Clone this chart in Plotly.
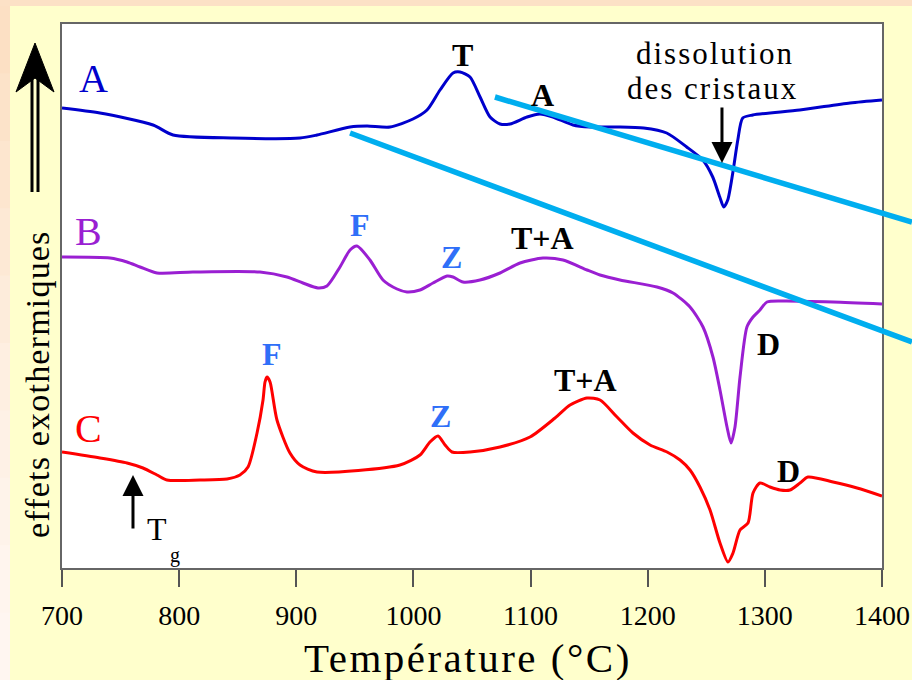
import plotly.graph_objects as go

# DTA traces: temperature (°C) and exothermic signal (arbitrary units)
temp_a = [700, 732.4, 777.7, 794.8, 846, 903.2, 917.7, 945.9, 960.4, 980, 999.6, 1011.6,
          1022.7, 1033.8, 1039.8, 1048.3, 1056.9, 1065.4, 1073.9, 1082.4, 1097, 1108,
          1119.1, 1136.2, 1150.7, 1173.8, 1196.5, 1216.2, 1233.3, 1247, 1255.5, 1261.5,
          1264.9, 1268.3, 1272.6, 1276.9, 1281.1, 1289.7, 1329.8, 1372.7, 1400]
sig_a = [460, 455, 443, 433, 430, 430, 433, 441, 442, 441, 449, 458,
         478, 495, 496, 491, 471, 451, 444, 444, 451, 454,
         451, 443, 441, 441, 440, 435, 421, 408, 391, 371,
         361, 368, 395, 428, 450, 453, 458, 465, 468]

temp_b = [700, 741.0, 755.5, 766.6, 781.1, 811.8, 869.0, 892.1, 905.7, 918.5, 926.2, 937.3,
          945.9, 951.8, 962.9, 974.0, 986.0, 994.5, 1005.6, 1016.7, 1028.7, 1033.8,
          1042.3, 1056.8, 1073.9, 1091.0, 1110.6, 1127.7, 1148.2, 1159.3, 1176.3, 1207.9,
          1221.6, 1236.1, 1247.2, 1255.7, 1261.7, 1267.7, 1271.1, 1274.5, 1278.8, 1284.7,
          1289.9, 1295.8, 1301.8, 1315.5, 1358.2, 1400]
sig_b = [311, 310, 306, 301, 295, 296, 296, 291, 285, 280, 282, 301,
         318, 322, 308, 288, 279, 276, 278, 285, 292, 291,
         286, 288, 295, 305, 310, 308, 298, 293, 288, 281,
         275, 261, 241, 211, 178, 141, 125, 141, 191, 241,
         251, 258, 266, 267, 266, 264]

temp_c = [700, 732.4, 755.5, 769.1, 781.1, 789.6, 817.8, 840.9, 851.9, 858.8, 866.5, 871.6,
          873.3, 875.0, 877.6, 883.5, 894.6, 903.2, 917.7, 988.5, 1005.6, 1014.1, 1021.0,
          1027.0, 1032.9, 1048.3, 1073.9, 1099.5, 1120.9, 1133.7, 1148.2, 1159.3, 1173.8,
          1187.4, 1202.0, 1216.5, 1227.6, 1236.1, 1244.6, 1253.2, 1261.7, 1268.5, 1272.8,
          1278.8, 1285.6, 1289.9, 1295.8, 1304.4, 1312.9, 1321.5, 1330.0, 1336.8, 1358.2,
          1378.7, 1400]
sig_c = [116, 110, 105, 100, 93, 88, 88, 89, 93, 101, 135, 168,
         186, 191, 186, 148, 115, 103, 96, 103, 113, 126, 132,
         123, 116, 116, 121, 131, 150, 163, 170, 168, 151,
         135, 123, 116, 108, 98, 81, 58, 25, 6, 15,
         38, 45, 75, 85, 81, 78, 78, 85, 91, 86,
         80, 72]

# Peak labels: text, temperature, signal, colour
peak_text = ["T", "A", "F", "Z", "T+A", "D", "F", "Z", "T+A", "D"]
peak_temp = [1041.5, 1109.8, 954.4, 1032.1, 1110.6, 1303.5, 879.3, 1022.7, 1146.5, 1319.8]
peak_sig = [513, 473, 343, 311, 330, 224, 214, 152, 188, 97]
peak_color = ["black", "black", "#2F6FF8", "#2F6FF8", "black", "black",
              "#2F6FF8", "#2F6FF8", "black", "black"]

# Curve names
curve_names = ["A", "B", "C"]
curve_name_temp = [726.5, 722.2, 723.0]
curve_name_sig = [490, 337, 140]
curve_colors = ["#0000CC", "#9A1FD2", "#FF0000"]

# Tie-lines between curves A and B (temperature, signal)
tie_temp = [(1069.6, 1425.6), (945.9, 1425.6)]
tie_sig = [(471, 346), (435, 226)]

x_ticks = [700, 800, 900, 1000, 1100, 1200, 1300, 1400]
X_RANGE = [700, 1400]
Y_RANGE = [0, 544]

W, H = 912, 680
ML, MR, MT, MB = 62, 30, 24, 112
PW, PH = W - ML - MR, H - MT - MB


def px_paper(xp, yp):
    """Pixel position on the page -> paper fraction."""
    return (xp - ML) / PW, (H - MB - yp) / PH


def data_paper(t, s):
    return ((t - X_RANGE[0]) / (X_RANGE[1] - X_RANGE[0]),
            (s - Y_RANGE[0]) / (Y_RANGE[1] - Y_RANGE[0]))


SERIF = "Liberation Serif"

fig = go.Figure()
for tx, sy, col in [(temp_a, sig_a, curve_colors[0]),
                    (temp_b, sig_b, curve_colors[1]),
                    (temp_c, sig_c, curve_colors[2])]:
    fig.add_trace(go.Scatter(x=tx, y=sy, mode="lines", showlegend=False,
                             hoverinfo="skip",
                             line=dict(color=col, width=3, shape="spline", smoothing=0.7)))

shapes = []
# peach border strips (top and left) around the yellow page
x0, y0 = px_paper(0, 0)
x1, y1 = px_paper(W, 6)
shapes.append(dict(type="rect", xref="paper", yref="paper", x0=x0, x1=x1, y0=y0, y1=y1,
                   line=dict(width=0), fillcolor="#FCE1C6", layer="below"))
bands = ["#FCE0C4", "#FCE3C9", "#FDE6CF", "#FDE9D5", "#FDECDB", "#FEEFE1",
         "#FEF1E6", "#FEF3EA", "#FFF5EE", "#FFF6F1"]
band_h = (H - 6) / len(bands)
for i, c in enumerate(bands):
    bx0, by0 = px_paper(0, 6 + i * band_h)
    bx1, by1 = px_paper(10, 6 + (i + 1) * band_h + 1)
    shapes.append(dict(type="rect", xref="paper", yref="paper", x0=bx0, x1=bx1,
                       y0=by1, y1=by0, line=dict(width=0), fillcolor=c, layer="below"))

# cyan tie-lines
for (ta, tb), (sa, sb) in zip(tie_temp, tie_sig):
    pa = data_paper(ta, sa)
    pb = data_paper(tb, sb)
    shapes.append(dict(type="line", xref="paper", yref="paper",
                       x0=pa[0], y0=pa[1], x1=pb[0], y1=pb[1],
                       line=dict(color="#00AEEF", width=5.5)))

# double-shafted arrow for the exothermic direction
for sx in (32, 38):
    ax0, ay0 = px_paper(sx, 75)
    ax1, ay1 = px_paper(sx, 192)
    shapes.append(dict(type="line", xref="paper", yref="paper", x0=ax0, y0=ay0,
                       x1=ax1, y1=ay1, line=dict(color="black", width=3)))
tip = px_paper(35, 43)
lft = px_paper(16, 92)
notch = px_paper(35, 78)
rgt = px_paper(54, 92)
shapes.append(dict(type="path", xref="paper", yref="paper",
                   path=f"M {tip[0]},{tip[1]} L {lft[0]},{lft[1]} L {notch[0]},{notch[1]} "
                        f"L {rgt[0]},{rgt[1]} Z",
                   fillcolor="black", line=dict(color="black", width=1)))

annotations = []


def label(x, y, text, size, color="black", ref="data", **kw):
    r = "x" if ref == "data" else "paper"
    ry = "y" if ref == "data" else "paper"
    annotations.append(dict(x=x, y=y, xref=r, yref=ry, text=text, showarrow=False,
                            xanchor="center", yanchor="middle",
                            font=dict(family=SERIF, size=size, color=color), **kw))


for name, t, s, col in zip(curve_names, curve_name_temp, curve_name_sig, curve_colors):
    label(t, s, name, 40, col)
for txt, t, s, col in zip(peak_text, peak_temp, peak_sig, peak_color):
    label(t, s, f"<b>{txt}</b>", 32, col)

# dissolution arrow and caption
annotations.append(dict(x=1263.4, y=405, xref="x", yref="y", ax=0, ay=-57, text="",
                        showarrow=True, arrowhead=2, arrowsize=1.4, arrowwidth=3,
                        arrowcolor="black"))
label(1257.4, 515, '<span style="letter-spacing:2px">dissolution</span>', 31)
label(1254.9, 480, '<span style="letter-spacing:2px">des cristaux</span>', 31)

# glass transition marker
annotations.append(dict(x=760.6, y=93, xref="x", yref="y", ax=0, ay=55, text="",
                        showarrow=True, arrowhead=2, arrowsize=1.4, arrowwidth=3,
                        arrowcolor="black"))
label(781.1, 39, "T", 32)
label(796.5, 13, "g", 20)

# axis titles
tx_, ty_ = px_paper(468, 658)
label(tx_, ty_, '<span style="letter-spacing:2.5px">Température (°C)</span>', 41, ref="paper")
yx_, yy_ = px_paper(37, 384)
label(yx_, yy_, '<span style="letter-spacing:1.2px">effets exothermiques</span>', 34,
      ref="paper", textangle=-90)

fig.update_layout(
    width=W, height=H,
    margin=dict(l=ML, r=MR, t=MT, b=MB, pad=0, autoexpand=False),
    paper_bgcolor="#FFFFCC",
    plot_bgcolor="white",
    shapes=shapes,
    annotations=annotations,
    showlegend=False,
    xaxis=dict(range=X_RANGE, tickvals=x_ticks, ticktext=[str(v) for v in x_ticks],
               showgrid=False, zeroline=False, showline=True, mirror=True,
               linecolor="#666666", linewidth=2, ticks="outside", ticklen=17,
               tickwidth=1.5, tickcolor="#555555", automargin=False,
               ticklabelstandoff=4,
               tickfont=dict(family=SERIF, size=28, color="black")),
    yaxis=dict(range=Y_RANGE, showticklabels=False, showgrid=False, zeroline=False,
               showline=True, mirror=True, linecolor="#666666", linewidth=2, ticks="",
               automargin=False),
)

fig.write_html("out.html")
